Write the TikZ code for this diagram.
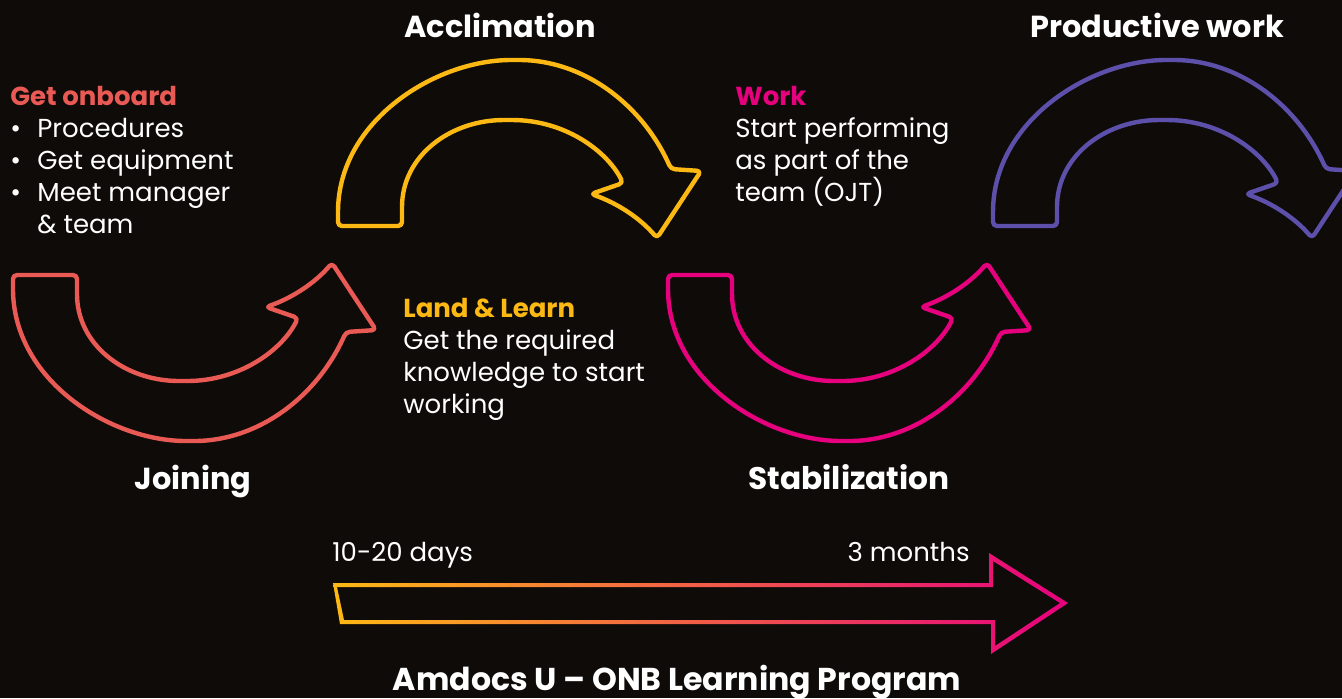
\documentclass[tikz,border=0pt]{standalone}
\usepackage{fontspec}
\setmainfont{Poppins}
\usepackage{tikz}
\usepackage{xcolor}

\definecolor{ambg}{RGB}{15,11,9}
\definecolor{amcoral}{RGB}{234,90,85}
\definecolor{amyellow}{RGB}{253,185,19}
\definecolor{ammagenta}{RGB}{230,0,126}
\definecolor{ampurple}{RGB}{92,80,170}

\tikzset{
  stagetitle/.style={white,anchor=base,inner sep=0pt,font=\fontsize{15.2}{18}\selectfont\bfseries},
  bodytext/.style={white,anchor=base west,inner sep=0pt,font=\fontsize{13}{16}\selectfont},
  headtext/.style={anchor=base west,inner sep=0pt,font=\fontsize{13}{16}\selectfont\bfseries},
  bendarrow/.pic={
    \draw[line width=2.2pt,rounded corners=2pt,line join=round]
      (13,275) -- (77,275) -- (77,290)
      .. controls (77,345) and (125,381) .. (183,381)
      .. controls (240,381) and (282,350) .. (298,318)
      -- (266,307)
      .. controls (292,298) and (315,283) .. (332,263)
      -- (376,330) -- (346,332)
      .. controls (318,395) and (260,441) .. (190,441)
      .. controls (110,441) and (13,380) .. (13,285) -- cycle;
  }
}

\begin{document}
\begin{tikzpicture}[x=0.5pt,y=-0.5pt]
      \fill[ambg] (0,0) rectangle (1342,698);
      \useasboundingbox (0,0) rectangle (1342,698);

      % curved arrows
      \pic[amcoral] {bendarrow};
      \pic[ammagenta,shift={(655,0)}] {bendarrow};
      \pic[amyellow,shift={(325,501)},yscale=-1] {bendarrow};
      \pic[ampurple,shift={(980,501)},yscale=-1] {bendarrow};

      % timeline arrow
      \shade[even odd rule,left color=amyellow,middle color=amcoral,right color=ammagenta]
        (333,583) -- (989,583) -- (989,553) -- (1068,603) -- (991,654) -- (991,624) -- (340,624) -- cycle
        (337,587) -- (993,587) -- (993,561) -- (1060,603) -- (995,646) -- (995,620) -- (344,620) -- cycle;

      % stage titles
      \node[stagetitle] (acclim) at (500,37) {Acclimation};
      \node[stagetitle] (prodwork) at (1157,37) {Productive work};
      \node[stagetitle] (joining) at (193,489) {Joining};
      \node[stagetitle,font=\fontsize{15.6}{18}\selectfont\bfseries] (stabil) at (849,489) {Stabilization};
      \node[stagetitle,font=\fontsize{15.8}{18}\selectfont\bfseries] (program) at (677,690) {Amdocs U – ONB Learning Program};

      % get onboard
      \node[headtext,amcoral] (onboard) at (10,105) {Get onboard};
      \node[bodytext] (bul1) at (10,137) {\textbullet};
      \node[bodytext] (bul2) at (10,169) {\textbullet};
      \node[bodytext] (bul3) at (10,201) {\textbullet};
      \node[bodytext] (proc) at (37,137) {Procedures};
      \node[bodytext] (equip) at (37,169) {Get equipment};
      \node[bodytext] (meet) at (37,201) {Meet manager};
      \node[bodytext] (team) at (37,233) {\& team};

      % land and learn
      \node[headtext,amyellow] (landlearn) at (403,317) {Land \& Learn};
      \node[bodytext] (ll1) at (403,349) {Get the required};
      \node[bodytext] (ll2) at (403,381) {knowledge to start};
      \node[bodytext] (ll3) at (403,413) {working};

      % work
      \node[headtext,ammagenta] (work) at (735,105) {Work};
      \node[bodytext] (wk1) at (735,137) {Start performing};
      \node[bodytext] (wk2) at (735,169) {as part of the};
      \node[bodytext] (wk3) at (735,201) {team (OJT)};

      % timeline labels
      \node[bodytext] (start) at (332,561) {10-20 days};
      \node[bodytext,anchor=base east] (end) at (970,561) {3 months};
    \end{tikzpicture}
\end{document}
